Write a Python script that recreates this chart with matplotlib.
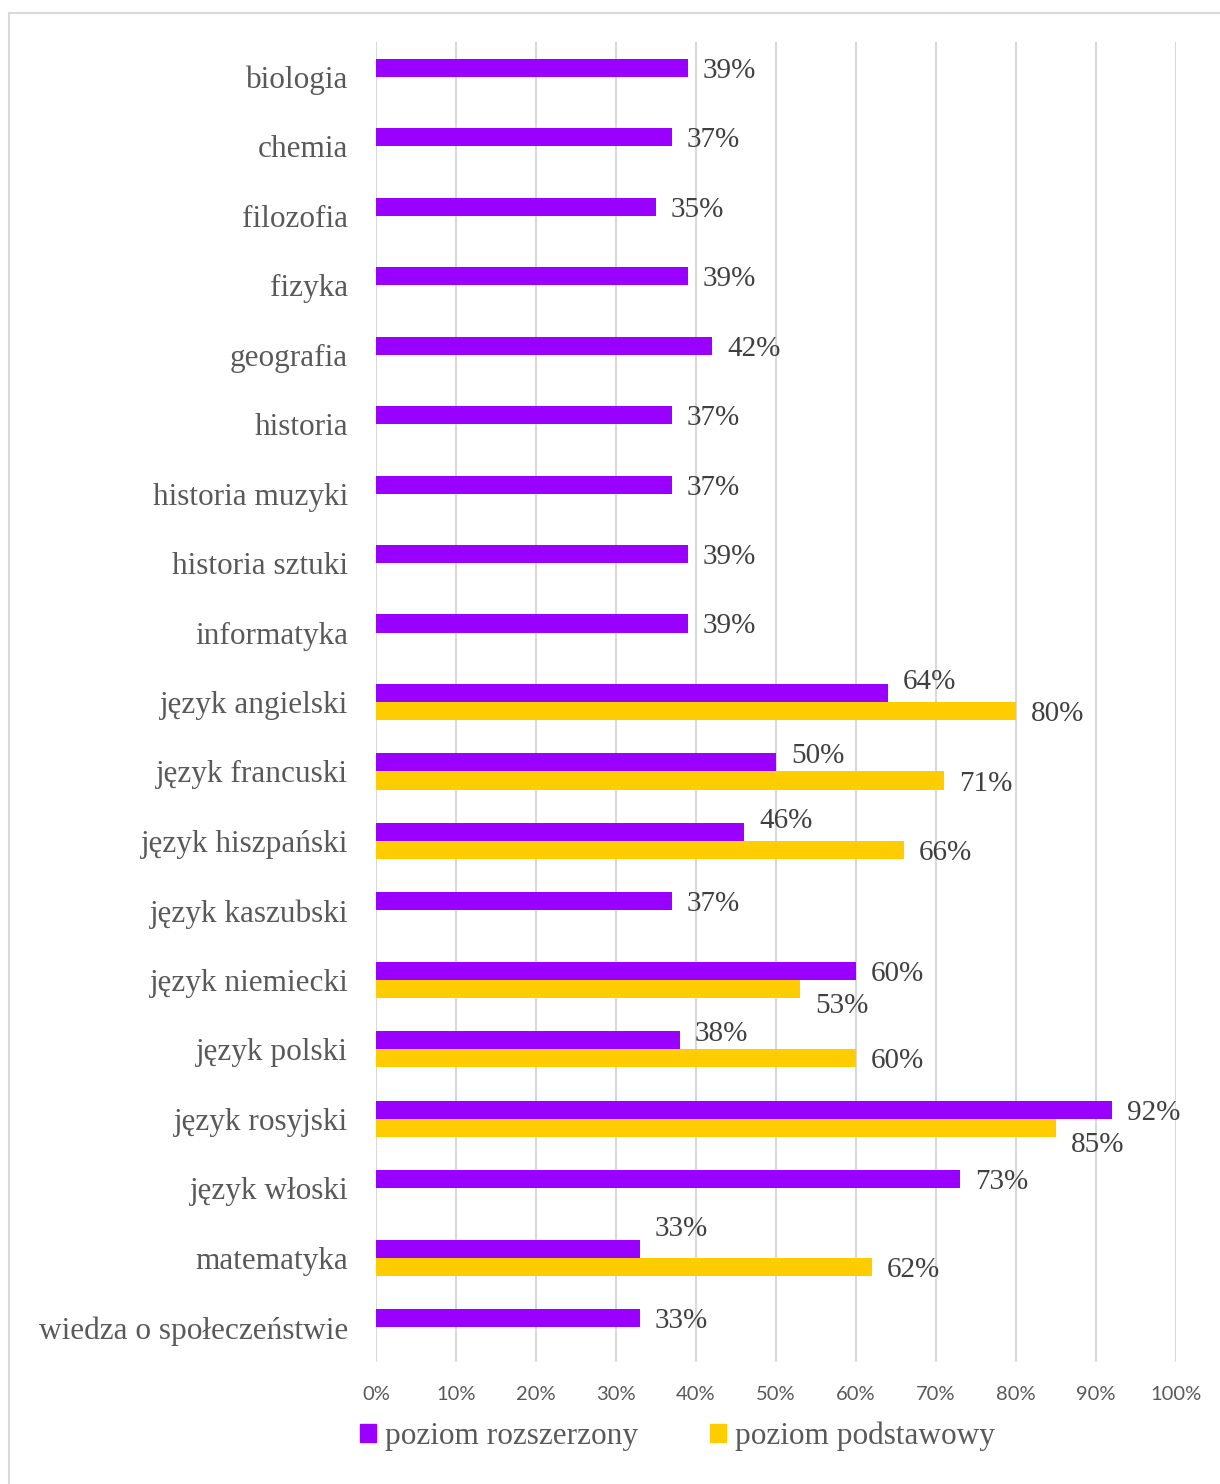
import matplotlib
matplotlib.use("Agg")
import matplotlib.pyplot as plt
import numpy as np
from matplotlib.patches import Rectangle
from matplotlib.lines import Line2D

categories = ["biologia", "chemia", "filozofia", "fizyka", "geografia", "historia",
              "historia muzyki", "historia sztuki", "informatyka", "język angielski",
              "język francuski", "język hiszpański", "język kaszubski", "język niemiecki",
              "język polski", "język rosyjski", "język włoski", "matematyka",
              "wiedza o społeczeństwie"]
rozszerzony = [39, 37, 35, 39, 42, 37, 37, 39, 39, 64, 50, 46, 37, 60, 38, 92, 73, 33, 33]
podstawowy = [None, None, None, None, None, None, None, None, None, 80, 71, 66, None,
              53, 60, 85, None, 62, None]
series_names = ["poziom rozszerzony", "poziom podstawowy"]
ticks = [0, 10, 20, 30, 40, 50, 60, 70, 80, 90, 100]

# label vertical nudges (pixels, positive = down), mimicking the original placement
roz_dy = [0, 0, 0, 0, 0, 0, 0, 0, 0, -14, -9, -14, 0, 0, -9, 0, 0, -23, 0]
pod_dy = [0, 0, 0, 0, 0, 0, 0, 0, 0, 0, 0, 0, 0, 14, 0, 14, 0, 0, 0]

PURPLE = "#9900FF"
GOLD = "#FFCC00"
GRID = "#D9D9D9"
TXT = "#595959"
SERIF = ["Liberation Serif", "DejaVu Serif"]
SANS = ["Lato", "DejaVu Sans"]

W, H = 1220, 1484
fig = plt.figure(figsize=(W / 100, H / 100), dpi=100)
ax = fig.add_axes([376 / W, 1 - 1362 / H, 800 / W, 1320 / H])

n = len(categories)
y = np.arange(n)
h = 0.26
ax.barh(y - h / 2, rozszerzony, height=h, color=PURPLE, zorder=3)
pv = np.array([np.nan if v is None else v for v in podstawowy], dtype=float)
ax.barh(y + h / 2, pv, height=h, color=GOLD, zorder=3)

ax.set_ylim(n - 0.5, -0.5)
ax.set_xlim(0, 100)
ax.set_xticks(ticks)
ax.set_xticklabels([f"{t}%" for t in ticks], fontfamily=SANS, fontsize=14.5, color=TXT)
ax.set_yticks(y)
ax.set_yticklabels(categories, fontfamily=SERIF, fontsize=22.5, color=TXT)
for lbl in ax.get_yticklabels():
    lbl.set_verticalalignment("center_baseline")
ax.tick_params(axis="y", length=0, pad=20)
ax.tick_params(axis="x", length=0, pad=17)
ax.grid(axis="x", color=GRID, linewidth=1.5, zorder=0)
for s in ax.spines.values():
    s.set_visible(False)

px = 0.72
for i, v in enumerate(rozszerzony):
    ax.annotate(f"{v}%", (v, i - h / 2), xytext=(15 * px, -(roz_dy[i] + 3) * px),
                textcoords="offset points", va="center", ha="left",
                fontfamily=SERIF, fontsize=21, color="#404040", zorder=4)
for i, v in enumerate(podstawowy):
    if v is None:
        continue
    ax.annotate(f"{v}%", (v, i + h / 2), xytext=(15 * px, -(pod_dy[i] + 3) * px),
                textcoords="offset points", va="center", ha="left",
                fontfamily=SERIF, fontsize=21, color="#404040", zorder=4)

handles = [Rectangle((0, 0), 1, 1, color=PURPLE), Rectangle((0, 0), 1, 1, color=GOLD)]
fig.legend(handles, series_names, loc="center left", bbox_to_anchor=(360 / W, 1 - 1436 / H),
           ncol=2, frameon=False, handlelength=0.5, handleheight=0.5, handletextpad=0.3,
           columnspacing=2.3, borderpad=0, borderaxespad=0,
           prop={"family": SERIF, "size": 22.5}, labelcolor=TXT)

# outer chart border (top and left visible)
fig.add_artist(Line2D([9 / W, 9 / W], [0, 1 - 13 / H], transform=fig.transFigure,
                      color=GRID, linewidth=1.5))
fig.add_artist(Line2D([9 / W, 1], [1 - 13 / H, 1 - 13 / H], transform=fig.transFigure,
                      color=GRID, linewidth=1.5))

fig.savefig("out.png", dpi=100)
